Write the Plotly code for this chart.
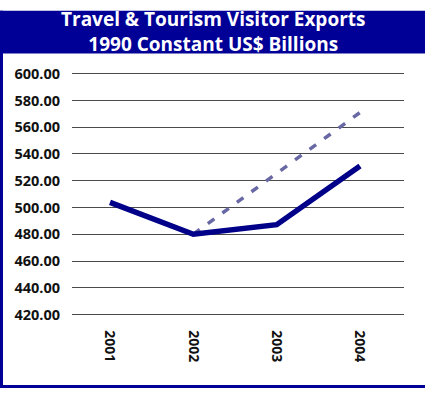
import plotly.graph_objects as go

# Data
years = ["2001", "2002", "2003", "2004"]
visitor_exports = [503.8, 480.0, 487.2, 531.0]
projection = [None, 480.0, 525.5, 571.0]
y_ticks = [420, 440, 460, 480, 500, 520, 540, 560, 580, 600]
title_lines = ["Travel & Tourism Visitor Exports", "1990 Constant US$ Billions"]

W, H = 425, 394
NAVY = "#000096"
FONT = "Open Sans"

fig = go.Figure()

fig.add_trace(go.Scatter(
    x=years, y=projection, mode="lines",
    line=dict(color="#6868a4", width=3.5, dash="8px,10px"),
    connectgaps=False, hoverinfo="skip", showlegend=False,
))
fig.add_trace(go.Scatter(
    x=years, y=visitor_exports, mode="lines",
    line=dict(color="#000088", width=5.5),
    showlegend=False,
))

fig.update_layout(
    width=W, height=H,
    margin=dict(l=0, r=0, t=0, b=0),
    paper_bgcolor="white", plot_bgcolor="white",
    xaxis=dict(
        type="category",
        domain=[72 / W, 404 / W],
        range=[-0.456, 3.528],
        showgrid=False, zeroline=False, showline=False,
        ticks="", tickangle=90,
        ticklabelstandoff=12,
        tickvals=years,
        ticktext=[f"<b>{y}</b>" for y in years],
        tickfont=dict(family=FONT, size=14, color="#111111"),
    ),
    yaxis=dict(
        domain=[(H - 320.8) / H, (H - 66.2) / H],
        range=[418, 602],
        tickvals=y_ticks,
        ticktext=[f"<b>{v:.2f}</b>" for v in y_ticks],
        showgrid=True, gridcolor="#4a4a4a", gridwidth=1,
        zeroline=False, showline=False, ticks="",
        ticklabelstandoff=11,
        tickfont=dict(family=FONT, size=14.5, color="#111111"),
    ),
    shapes=[
        # title banner
        dict(type="rect", xref="paper", yref="paper",
             x0=0, x1=1, y0=(H - 48) / H, y1=(H - 4) / H,
             fillcolor=NAVY, line=dict(width=0), layer="below"),
        # left frame edge
        dict(type="rect", xref="paper", yref="paper",
             x0=0, x1=3 / W, y0=0, y1=(H - 4) / H,
             fillcolor=NAVY, line=dict(width=0)),
        # bottom frame edge
        dict(type="rect", xref="paper", yref="paper",
             x0=0, x1=1, y0=0, y1=3 / H,
             fillcolor=NAVY, line=dict(width=0)),
    ],
    annotations=[
        dict(text="<b>" + "<br>".join(title_lines) + "</b>",
             xref="paper", yref="paper", x=0.5, y=(H - 25) / H,
             xanchor="center", yanchor="middle", showarrow=False,
             font=dict(family=FONT, size=19, color="white")),
    ],
)

fig.write_html("out.html")
